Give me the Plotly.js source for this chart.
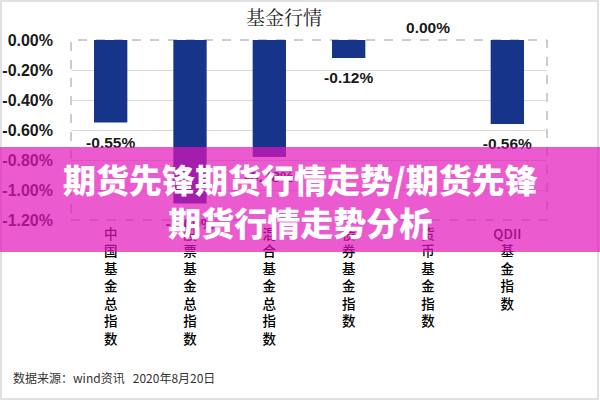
<!DOCTYPE html>
<html>
<head>
<meta charset="utf-8">
<script src="https://cdn.plot.ly/plotly-3.0.1.min.js"></script>
<style>
  html, body { margin: 0; padding: 0; background: #fff; }
  #chart { width: 600px; height: 400px; }
</style>
</head>
<body>
<div id="chart"></div>
<script>
// ---- data ----
const categories = ['中国基金总指数', '股票基金总指数', '混合基金总指数', '债券基金指数', '货币基金指数', 'QDII基金指数'];
const changes = [-0.55, -1.09, -0.78, -0.12, 0.00, -0.56];   // daily change, %
const yTickVals = [0, -0.2, -0.4, -0.6, -0.8, -1.0, -1.2];
const chartTitle = '基金行情';
const bannerText = '期货先锋期货行情走势/期货先锋<br>期货行情走势分析';
const sourceText = '数据来源：wind资讯   2020年8月20日';

// ---- layout constants ----
const W = 600, H = 400;
const M = { l: 71, r: 53, t: 40, b: 180 };
const PW = W - M.l - M.r, PH = H - M.t - M.b;
const px2x = p => (p - M.l) / PW;
const py2y = p => (H - M.b - p) / PH;

const cjk = '"Noto Sans CJK SC", "Noto Sans CJK JP", sans-serif';
const latin = '"Liberation Sans", Arial, sans-serif';

const vertical = s => s.match(/[A-Za-z]+|./g).join('<br>');
const pct = v => v.toFixed(2) + '%';

const bars = {
  type: 'bar',
  x: categories,
  y: changes,
  marker: { color: '#16348a', line: { width: 0 } },
  hoverinfo: 'skip'
};

const labels = {
  type: 'scatter',
  mode: 'markers+text',
  x: categories,
  y: changes,
  text: changes.map(pct),
  textposition: changes.map(v => v < 0 ? 'bottom center' : 'top center'),
  textfont: { family: latin, size: 15.5, color: '#1a1a1a', weight: 'bold' },
  marker: { size: changes.map(v => v < 0 ? 20 : 4), opacity: 0 },
  cliponaxis: false,
  hoverinfo: 'skip',
  showlegend: false
};

const layout = {
  width: W, height: H,
  margin: M,
  paper_bgcolor: '#fff',
  plot_bgcolor: '#fff',
  showlegend: false,
  bargap: 0.58,
  title: {
    text: chartTitle,
    font: { family: '"Noto Serif CJK SC", ' + cjk, size: 19, color: '#222' },
    xref: 'paper', x: px2x(284), xanchor: 'center',
    yref: 'container', y: 1 - 18 / H, yanchor: 'middle'
  },
  xaxis: {
    type: 'category',
    tickvals: categories,
    ticktext: categories.map(vertical),
    tickfont: { family: cjk, size: 13.5, color: '#000', weight: 500 },
    tickangle: 0,
    ticks: '',
    ticklabelstandoff: 4,
    showline: false, showgrid: false, zeroline: false,
    range: [-0.5, categories.length - 0.5],
    fixedrange: true
  },
  xaxis2: {
    overlaying: 'x', anchor: 'y', side: 'top',
    range: [-0.5, categories.length - 0.5],
    tick0: -0.5, dtick: 0.5,
    ticks: 'outside', ticklen: 5, tickcolor: '#444', tickwidth: 1,
    showticklabels: false,
    showline: true, linecolor: '#000', linewidth: 1.5,
    showgrid: false, zeroline: false, fixedrange: true
  },
  yaxis: {
    range: [-1.2, 0],
    tickvals: yTickVals,
    ticktext: yTickVals.map(pct),
    tickfont: { family: latin, size: 16, color: '#1a1a1a', weight: 'bold' },
    ticks: '',
    ticklabelstandoff: 17,
    showgrid: true, gridcolor: '#d9d9d9', gridwidth: 1,
    showline: false, zeroline: false, fixedrange: true
  },
  shapes: [
    // outer frame
    { type: 'rect', xref: 'paper', yref: 'paper', layer: 'below',
      x0: px2x(1), x1: px2x(598), y0: py2y(399), y1: py2y(1),
      line: { color: '#d6d6d6', width: 1.5 }, fillcolor: 'rgba(0,0,0,0)' },
    // dashed plot border
    { type: 'rect', xref: 'paper', yref: 'paper', layer: 'below',
      x0: 0, x1: 1, y0: 0, y1: 1,
      line: { color: '#9a9a9a', width: 1, dash: 'dash' }, fillcolor: 'rgba(0,0,0,0)' },
    // pink banner
    { type: 'rect', xref: 'paper', yref: 'paper', layer: 'above',
      x0: px2x(-2), x1: px2x(602), y0: py2y(252), y1: py2y(147),
      line: { width: 0 }, fillcolor: 'rgba(226, 20, 186, 0.70)' }
  ],
  annotations: [
    { text: bannerText, xref: 'paper', yref: 'paper',
      x: px2x(300), y: py2y(200), xanchor: 'center', yanchor: 'middle',
      align: 'center', showarrow: false,
      font: { family: cjk, size: 33, color: '#fff', weight: 900 } },
    { text: sourceText, xref: 'paper', yref: 'paper',
      x: px2x(11), y: py2y(377), xanchor: 'left', yanchor: 'middle',
      showarrow: false,
      font: { family: cjk, size: 12, color: '#333' } }
  ]
};

Plotly.newPlot('chart', [bars, labels], layout, { staticPlot: true, displayModeBar: false });
</script>
</body>
</html>
